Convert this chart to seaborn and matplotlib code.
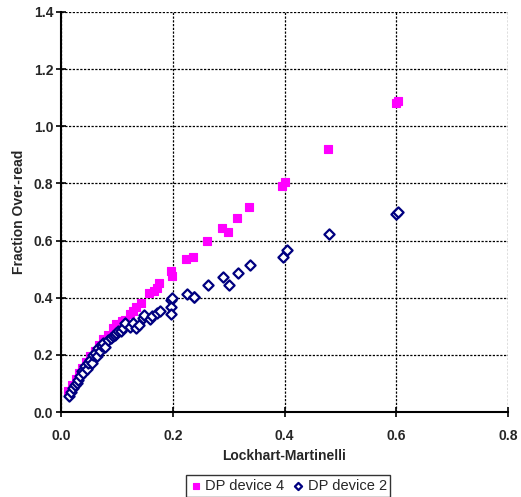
import matplotlib
matplotlib.use("Agg")
import matplotlib.pyplot as plt
import seaborn as sns
import pandas as pd

# DP device 4 (magenta squares)
dev4_x = [0.013, 0.020, 0.026, 0.032, 0.038, 0.045, 0.052, 0.060, 0.068, 0.076, 0.084,
          0.093, 0.098, 0.109, 0.114, 0.124, 0.129, 0.135, 0.143, 0.158, 0.166, 0.171,
          0.175, 0.196, 0.198, 0.223, 0.236, 0.261, 0.288, 0.299, 0.315, 0.336,
          0.396, 0.400, 0.477, 0.600, 0.603]
dev4_y = [0.073, 0.095, 0.115, 0.135, 0.155, 0.175, 0.195, 0.215, 0.235, 0.255, 0.270,
          0.294, 0.309, 0.317, 0.323, 0.344, 0.352, 0.366, 0.383, 0.416, 0.422, 0.434,
          0.451, 0.495, 0.476, 0.535, 0.542, 0.597, 0.645, 0.629, 0.680, 0.716,
          0.791, 0.806, 0.919, 1.080, 1.090]

# DP device 2 (navy diamonds)
dev2_x = [0.014, 0.018, 0.022, 0.025, 0.028, 0.031, 0.034, 0.037, 0.040, 0.043, 0.046,
          0.049, 0.052, 0.055, 0.058, 0.061, 0.064, 0.067, 0.070, 0.073, 0.076, 0.079,
          0.084, 0.090, 0.093, 0.096, 0.099, 0.102, 0.108, 0.111, 0.114, 0.123,
          0.129, 0.135, 0.140, 0.147, 0.149, 0.159, 0.162, 0.171, 0.177,
          0.196, 0.196, 0.196, 0.198, 0.226, 0.238, 0.238, 0.263, 0.290, 0.300,
          0.317, 0.338, 0.398, 0.404, 0.479, 0.600, 0.604]
dev2_y = [0.055, 0.070, 0.084, 0.095, 0.102, 0.113, 0.125, 0.142, 0.135, 0.160, 0.150,
          0.172, 0.183, 0.170, 0.201, 0.207, 0.195, 0.224, 0.212, 0.230, 0.241, 0.228,
          0.253, 0.259, 0.265, 0.271, 0.276, 0.282, 0.282, 0.294, 0.311, 0.299,
          0.313, 0.294, 0.305, 0.329, 0.340, 0.325, 0.337, 0.348, 0.355,
          0.393, 0.369, 0.344, 0.399, 0.414, 0.403, 0.404, 0.445, 0.474, 0.445,
          0.488, 0.516, 0.544, 0.567, 0.623, 0.693, 0.700]

x_ticks = [0.0, 0.2, 0.4, 0.6, 0.8]
y_ticks = [0.0, 0.2, 0.4, 0.6, 0.8, 1.0, 1.2, 1.4]

df4 = pd.DataFrame({"x": dev4_x, "y": dev4_y, "series": "DP device 4"})
df2 = pd.DataFrame({"x": dev2_x, "y": dev2_y, "series": "DP device 2"})

sns.set_style("white")
plt.rcParams["font.family"] = ["Liberation Sans", "DejaVu Sans"]

fig = plt.figure(figsize=(5.21, 4.97), dpi=100)
ax = fig.add_axes([61 / 521, 1 - 412 / 497, (508 - 61) / 521, (412 - 12) / 497])

sns.scatterplot(data=df4, x="x", y="y", ax=ax, marker="s", color="#FF00FF",
                edgecolor="#FF00FF", linewidth=0.8, s=36, label="DP device 4",
                legend=False, zorder=3)
sns.scatterplot(data=df2, x="x", y="y", ax=ax, marker="D", facecolor="white",
                edgecolor="#000080", linewidth=1.6, s=27, label="DP device 2",
                legend=False, zorder=4)

ax.set_xlim(0, 0.8)
ax.set_ylim(0, 1.4)
ax.set_xticks(x_ticks)
ax.set_yticks(y_ticks)
ax.set_xticklabels([f"{v:.1f}" for v in x_ticks], fontweight="bold", fontsize=10)
ax.set_yticklabels([f"{v:.1f}" for v in y_ticks], fontweight="bold", fontsize=10)
ax.grid(True, color="black", linestyle=(0, (1.8, 1.2)), linewidth=0.9)
ax.set_axisbelow(True)
for side in ["top", "right"]:
    ax.spines[side].set_visible(False)
for side in ["left", "bottom"]:
    ax.spines[side].set_color("black")
    ax.spines[side].set_linewidth(1.5)
ax.tick_params(axis="both", direction="inout", length=7, width=1.2, color="black",
               left=True, bottom=True)
ax.tick_params(axis="x", pad=9)
ax.tick_params(axis="y", pad=2)
ax.set_xlabel("Lockhart-Martinelli", fontweight="bold", fontsize=10, labelpad=4)
ax.set_ylabel("Fraction Over-read", fontweight="bold", fontsize=10, labelpad=6)

h, l = ax.get_legend_handles_labels()
leg = fig.legend(h, l, loc="center", bbox_to_anchor=(288 / 521, 11 / 497), ncol=2,
                 frameon=True, fancybox=False, fontsize=10.5, handletextpad=0.2,
                 columnspacing=0.5, borderpad=0.25, handlelength=0.9,
                 markerscale=0.7)
leg.get_frame().set_edgecolor("black")
leg.get_frame().set_linewidth(1.0)

fig.savefig("out.png", dpi=100)
